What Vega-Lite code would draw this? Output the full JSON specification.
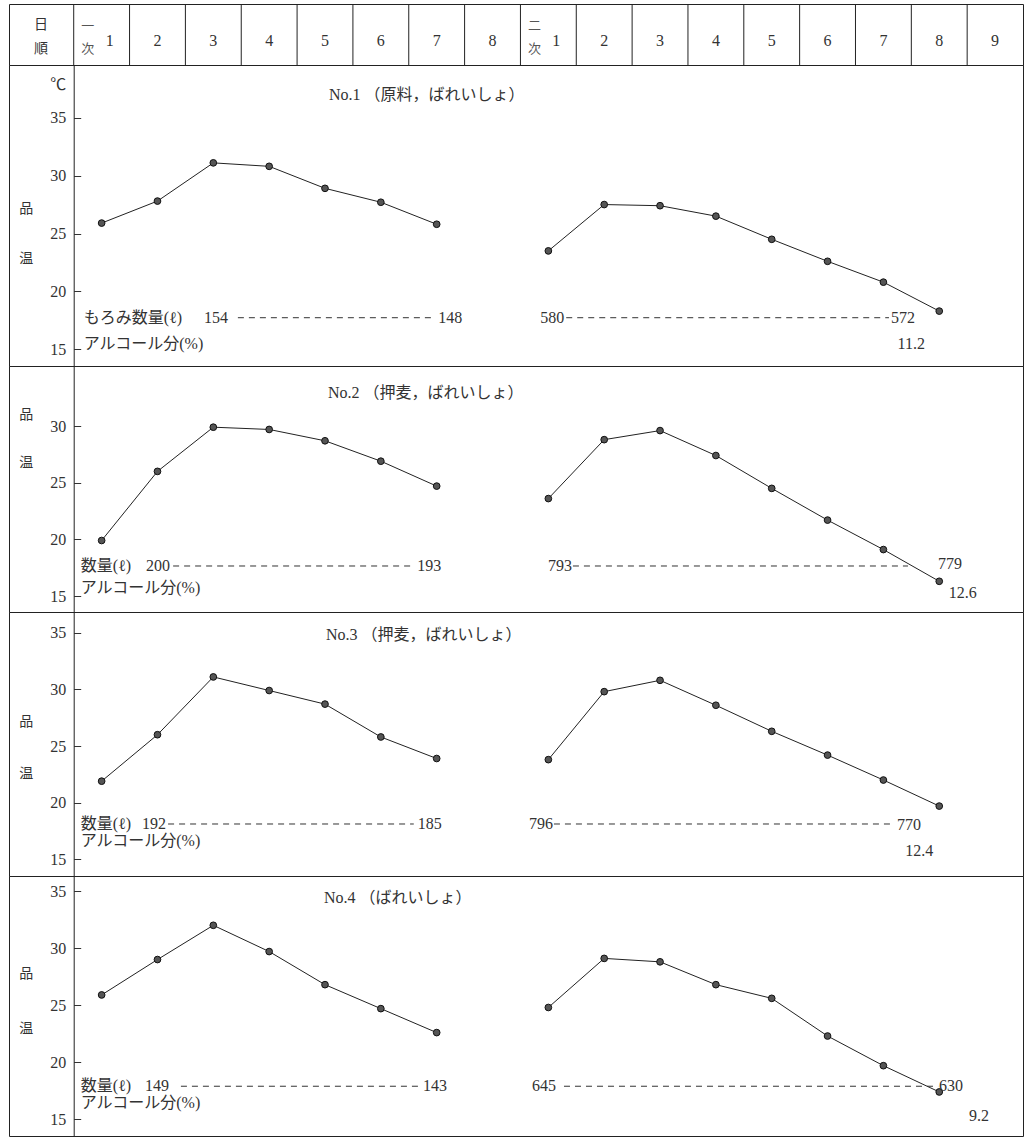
{
  "$schema": "https://vega.github.io/schema/vega-lite/v6.json",
  "background": "white",
  "padding": {"left": 8, "top": 3, "right": 3, "bottom": 1},
  "bounds": "flush",
  "spacing": 0,
  "datasets": {
    "header": [
      {"日": "一次1", "日数": "1", "工程": "一\n次"},
      {"日": "一次2", "日数": "2"},
      {"日": "一次3", "日数": "3"},
      {"日": "一次4", "日数": "4"},
      {"日": "一次5", "日数": "5"},
      {"日": "一次6", "日数": "6"},
      {"日": "一次7", "日数": "7"},
      {"日": "一次8", "日数": "8"},
      {"日": "二次1", "日数": "1", "工程": "二\n次"},
      {"日": "二次2", "日数": "2"},
      {"日": "二次3", "日数": "3"},
      {"日": "二次4", "日数": "4"},
      {"日": "二次5", "日数": "5"},
      {"日": "二次6", "日数": "6"},
      {"日": "二次7", "日数": "7"},
      {"日": "二次8", "日数": "8"},
      {"日": "二次9", "日数": "9"}
    ],
    "temp": [
      {"No": 1, "工程": "一次", "日": "一次1", "品温": 25.9},
      {"No": 1, "工程": "一次", "日": "一次2", "品温": 27.8},
      {"No": 1, "工程": "一次", "日": "一次3", "品温": 31.1},
      {"No": 1, "工程": "一次", "日": "一次4", "品温": 30.8},
      {"No": 1, "工程": "一次", "日": "一次5", "品温": 28.9},
      {"No": 1, "工程": "一次", "日": "一次6", "品温": 27.7},
      {"No": 1, "工程": "一次", "日": "一次7", "品温": 25.8},
      {"No": 1, "工程": "二次", "日": "二次1", "品温": 23.5},
      {"No": 1, "工程": "二次", "日": "二次2", "品温": 27.5},
      {"No": 1, "工程": "二次", "日": "二次3", "品温": 27.4},
      {"No": 1, "工程": "二次", "日": "二次4", "品温": 26.5},
      {"No": 1, "工程": "二次", "日": "二次5", "品温": 24.5},
      {"No": 1, "工程": "二次", "日": "二次6", "品温": 22.6},
      {"No": 1, "工程": "二次", "日": "二次7", "品温": 20.8},
      {"No": 1, "工程": "二次", "日": "二次8", "品温": 18.3},
      {"No": 2, "工程": "一次", "日": "一次1", "品温": 19.9},
      {"No": 2, "工程": "一次", "日": "一次2", "品温": 26.0},
      {"No": 2, "工程": "一次", "日": "一次3", "品温": 29.9},
      {"No": 2, "工程": "一次", "日": "一次4", "品温": 29.7},
      {"No": 2, "工程": "一次", "日": "一次5", "品温": 28.7},
      {"No": 2, "工程": "一次", "日": "一次6", "品温": 26.9},
      {"No": 2, "工程": "一次", "日": "一次7", "品温": 24.7},
      {"No": 2, "工程": "二次", "日": "二次1", "品温": 23.6},
      {"No": 2, "工程": "二次", "日": "二次2", "品温": 28.8},
      {"No": 2, "工程": "二次", "日": "二次3", "品温": 29.6},
      {"No": 2, "工程": "二次", "日": "二次4", "品温": 27.4},
      {"No": 2, "工程": "二次", "日": "二次5", "品温": 24.5},
      {"No": 2, "工程": "二次", "日": "二次6", "品温": 21.7},
      {"No": 2, "工程": "二次", "日": "二次7", "品温": 19.1},
      {"No": 2, "工程": "二次", "日": "二次8", "品温": 16.3},
      {"No": 3, "工程": "一次", "日": "一次1", "品温": 21.9},
      {"No": 3, "工程": "一次", "日": "一次2", "品温": 26.0},
      {"No": 3, "工程": "一次", "日": "一次3", "品温": 31.1},
      {"No": 3, "工程": "一次", "日": "一次4", "品温": 29.9},
      {"No": 3, "工程": "一次", "日": "一次5", "品温": 28.7},
      {"No": 3, "工程": "一次", "日": "一次6", "品温": 25.8},
      {"No": 3, "工程": "一次", "日": "一次7", "品温": 23.9},
      {"No": 3, "工程": "二次", "日": "二次1", "品温": 23.8},
      {"No": 3, "工程": "二次", "日": "二次2", "品温": 29.8},
      {"No": 3, "工程": "二次", "日": "二次3", "品温": 30.8},
      {"No": 3, "工程": "二次", "日": "二次4", "品温": 28.6},
      {"No": 3, "工程": "二次", "日": "二次5", "品温": 26.3},
      {"No": 3, "工程": "二次", "日": "二次6", "品温": 24.2},
      {"No": 3, "工程": "二次", "日": "二次7", "品温": 22.0},
      {"No": 3, "工程": "二次", "日": "二次8", "品温": 19.7},
      {"No": 4, "工程": "一次", "日": "一次1", "品温": 25.9},
      {"No": 4, "工程": "一次", "日": "一次2", "品温": 29.0},
      {"No": 4, "工程": "一次", "日": "一次3", "品温": 32.0},
      {"No": 4, "工程": "一次", "日": "一次4", "品温": 29.7},
      {"No": 4, "工程": "一次", "日": "一次5", "品温": 26.8},
      {"No": 4, "工程": "一次", "日": "一次6", "品温": 24.7},
      {"No": 4, "工程": "一次", "日": "一次7", "品温": 22.6},
      {"No": 4, "工程": "二次", "日": "二次1", "品温": 24.8},
      {"No": 4, "工程": "二次", "日": "二次2", "品温": 29.1},
      {"No": 4, "工程": "二次", "日": "二次3", "品温": 28.8},
      {"No": 4, "工程": "二次", "日": "二次4", "品温": 26.8},
      {"No": 4, "工程": "二次", "日": "二次5", "品温": 25.6},
      {"No": 4, "工程": "二次", "日": "二次6", "品温": 22.3},
      {"No": 4, "工程": "二次", "日": "二次7", "品温": 19.7},
      {"No": 4, "工程": "二次", "日": "二次8", "品温": 17.4}
    ],
    "qty": [
      {"No": 1, "工程": "一次", "項目": "もろみ数量(ℓ)", "始": "一次3", "終": "一次7", "始量": 154, "終量": 148},
      {"No": 1, "工程": "二次", "始": "二次1", "終": "二次7", "始量": 580, "終量": 572},
      {"No": 2, "工程": "一次", "項目": "数量(ℓ)", "始": "一次2", "終": "一次7", "始量": 200, "終量": 193},
      {"No": 2, "工程": "二次", "始": "二次1", "終": "二次7", "始量": 793, "終量": 779},
      {"No": 3, "工程": "一次", "項目": "数量(ℓ)", "始": "一次2", "終": "一次7", "始量": 192, "終量": 185},
      {"No": 3, "工程": "二次", "始": "二次1", "終": "二次7", "始量": 796, "終量": 770},
      {"No": 4, "工程": "一次", "項目": "数量(ℓ)", "始": "一次2", "終": "一次7", "始量": 149, "終量": 143},
      {"No": 4, "工程": "二次", "始": "二次1", "終": "二次8", "始量": 645, "終量": 630}
    ],
    "alc": [
      {"No": 1, "項目": "アルコール分(%)", "アルコール分": 11.2},
      {"No": 2, "項目": "アルコール分(%)", "アルコール分": 12.6},
      {"No": 3, "項目": "アルコール分(%)", "アルコール分": 12.4},
      {"No": 4, "項目": "アルコール分(%)", "アルコール分": 9.2}
    ]
  },
  "vconcat": [
    {
      "width": 1014, "height": 61,
      "title": {"text": ["日", "順"], "orient": "left", "anchor": "middle", "frame": "group", "angle": 0, "offset": -46, "dy": -10, "align": "center", "baseline": "middle", "lineHeight": 24, "fontSize": 14, "fontWeight": "normal", "color": "#333", "font": "Noto Sans CJK JP"},
      "data": {"name": "header"},
      "layer": [
        {"mark": {"type": "rule", "color": "#222", "strokeWidth": 1},
         "encoding": {"x": {"field": "日", "type": "ordinal", "bandPosition": 0, "axis": null,
           "scale": {"type": "band", "domain": ["一次1","一次2","一次3","一次4","一次5","一次6","一次7","一次8","二次1","二次2","二次3","二次4","二次5","二次6","二次7","二次8","二次9"], "paddingInner": 0, "paddingOuter": 0.5795, "align": 1}}}},
        {"transform": [{"filter": "datum['工程'] == null"}],
         "mark": {"type": "text", "baseline": "middle", "align": "center", "dy": 6, "fontSize": 16, "color": "#333", "font": "Liberation Serif, Noto Sans CJK JP"},
         "encoding": {"x": {"field": "日", "type": "ordinal", "axis": null}, "text": {"field": "日数"}}},
        {"transform": [{"filter": "datum['工程'] != null"}],
         "mark": {"type": "text", "baseline": "middle", "align": "center", "dy": 6, "dx": 8, "fontSize": 16, "color": "#333", "font": "Liberation Serif, Noto Sans CJK JP"},
         "encoding": {"x": {"field": "日", "type": "ordinal", "axis": null}, "text": {"field": "日数"}}},
        {"transform": [{"filter": "datum['工程'] != null"}],
         "mark": {"type": "text", "baseline": "middle", "align": "center", "dy": -8.5, "lineBreak": "\n", "lineHeight": 23, "fontSize": 13, "color": "#555", "font": "Noto Sans CJK JP"},
         "encoding": {"x": {"field": "日", "type": "ordinal", "bandPosition": 0.25, "axis": null}, "text": {"field": "工程"}}}
      ]
    },
    {
      "width": 1014, "height": 301,
      "title": {"text": "No.1 （原料，ばれいしょ）", "anchor": "start", "frame": "group", "offset": -46, "dx": 320, "baseline": "middle", "fontSize": 16, "fontWeight": "normal", "color": "#333", "font": "Liberation Serif, Noto Sans CJK JP"},
      "layer": [
        {"data": {"name": "temp"}, "transform": [{"filter": {"field": "No", "equal": 1}}],
         "mark": {"type": "line", "color": "#222", "strokeWidth": 1},
         "encoding": {
           "x": {"field": "日", "type": "ordinal", "axis": null,
             "scale": {"type": "band", "domain": ["一次1","一次2","一次3","一次4","一次5","一次6","一次7","一次8","二次1","二次2","二次3","二次4","二次5","二次6","二次7","二次8","二次9"], "paddingInner": 0, "paddingOuter": 0.5795, "align": 1}},
           "y": {"field": "品温", "type": "quantitative", "scale": {"domain": [13.56, 39.55], "nice": false, "zero": false},
             "axis": {"offset": -64.7, "values": [15, 20, 25, 30, 35, 37.9], "labelExpr": "datum.value > 36 ? '℃' : datum.label", "tickSize": -7, "labelPadding": 15, "tickColor": {"condition": {"test": "datum.value > 36", "value": "transparent"}, "value": "#333"}, "grid": false, "domainColor": "#222", "labelFont": "Liberation Serif, Noto Sans CJK JP", "labelFontSize": 16, "labelColor": "#333", "labelFlush": false, "title": ["品", "温"], "titleAngle": 0, "titleX": -48, "titleY": 136, "titleAlign": "center", "titleBaseline": "top", "titleLineHeight": 50, "titleFontSize": 14, "titleFontWeight": "normal", "titleColor": "#333", "titleFont": "Noto Sans CJK JP"}},
           "detail": {"field": "工程"}}},
        {"data": {"name": "temp"}, "transform": [{"filter": {"field": "No", "equal": 1}}],
         "mark": {"type": "point", "filled": true, "fill": "#555", "stroke": "#111", "strokeWidth": 1, "size": 45, "opacity": 1},
         "encoding": {"x": {"field": "日", "type": "ordinal", "axis": null}, "y": {"field": "品温", "type": "quantitative"}}},
        {"data": {"name": "qty"}, "transform": [{"filter": {"and": [{"field": "No", "equal": 1}, {"field": "工程", "equal": "一次"}]}}],
         "mark": {"type": "rule", "strokeDash": [6, 5], "color": "#333", "strokeWidth": 1},
         "encoding": {"x": {"field": "始", "type": "ordinal", "bandPosition": 0.94, "axis": null}, "x2": {"field": "終", "bandPosition": 0.44}, "y": {"datum": 17.73, "type": "quantitative"}}},
        {"data": {"name": "qty"}, "transform": [{"filter": {"and": [{"field": "No", "equal": 1}, {"field": "工程", "equal": "一次"}]}}],
         "mark": {"type": "text", "align": "left", "baseline": "middle", "dx": 10, "fontSize": 16, "color": "#333", "font": "Liberation Serif, Noto Sans CJK JP"},
         "encoding": {"x": {"datum": "一次1", "type": "ordinal", "bandPosition": 0, "axis": null}, "y": {"datum": 17.73, "type": "quantitative"}, "text": {"field": "項目"}}},
        {"data": {"name": "qty"}, "transform": [{"filter": {"and": [{"field": "No", "equal": 1}, {"field": "工程", "equal": "一次"}]}}],
         "mark": {"type": "text", "align": "right", "baseline": "middle", "dx": -10, "fontSize": 16, "color": "#333", "font": "Liberation Serif, Noto Sans CJK JP"},
         "encoding": {"x": {"field": "始", "type": "ordinal", "bandPosition": 0.94, "axis": null}, "y": {"datum": 17.73, "type": "quantitative"}, "text": {"field": "始量"}}},
        {"data": {"name": "qty"}, "transform": [{"filter": {"and": [{"field": "No", "equal": 1}, {"field": "工程", "equal": "一次"}]}}],
         "mark": {"type": "text", "align": "left", "baseline": "middle", "dx": 5, "fontSize": 16, "color": "#333", "font": "Liberation Serif, Noto Sans CJK JP"},
         "encoding": {"x": {"field": "終", "type": "ordinal", "bandPosition": 0.44, "axis": null}, "y": {"datum": 17.73, "type": "quantitative"}, "text": {"field": "終量"}}},
        {"data": {"name": "qty"}, "transform": [{"filter": {"and": [{"field": "No", "equal": 1}, {"field": "工程", "equal": "二次"}]}}],
         "mark": {"type": "rule", "strokeDash": [6, 5], "color": "#333", "strokeWidth": 1},
         "encoding": {"x": {"field": "始", "type": "ordinal", "bandPosition": 0.82, "axis": null}, "x2": {"field": "終", "bandPosition": 0.60}, "y": {"datum": 17.73, "type": "quantitative"}}},
        {"data": {"name": "qty"}, "transform": [{"filter": {"and": [{"field": "No", "equal": 1}, {"field": "工程", "equal": "二次"}]}}],
         "mark": {"type": "text", "align": "right", "baseline": "middle", "dx": -2, "fontSize": 16, "color": "#333", "font": "Liberation Serif, Noto Sans CJK JP"},
         "encoding": {"x": {"field": "始", "type": "ordinal", "bandPosition": 0.82, "axis": null}, "y": {"datum": 17.73, "type": "quantitative"}, "text": {"field": "始量"}}},
        {"data": {"name": "qty"}, "transform": [{"filter": {"and": [{"field": "No", "equal": 1}, {"field": "工程", "equal": "二次"}]}}],
         "mark": {"type": "text", "align": "left", "baseline": "middle", "dx": 2, "fontSize": 16, "color": "#333", "font": "Liberation Serif, Noto Sans CJK JP"},
         "encoding": {"x": {"field": "終", "type": "ordinal", "bandPosition": 0.60, "axis": null}, "y": {"datum": 17.73, "type": "quantitative"}, "text": {"field": "終量"}}},
        {"data": {"name": "alc"}, "transform": [{"filter": {"field": "No", "equal": 1}}],
         "mark": {"type": "text", "align": "left", "baseline": "middle", "dx": 10, "fontSize": 16, "color": "#333", "font": "Liberation Serif, Noto Sans CJK JP"},
         "encoding": {"x": {"datum": "一次1", "type": "ordinal", "bandPosition": 0, "axis": null}, "y": {"datum": 15.46, "type": "quantitative"}, "text": {"field": "項目"}}},
        {"data": {"name": "alc"}, "transform": [{"filter": {"field": "No", "equal": 1}}],
         "mark": {"type": "text", "align": "center", "baseline": "middle", "fontSize": 16, "color": "#333", "font": "Liberation Serif, Noto Sans CJK JP"},
         "encoding": {"x": {"datum": "二次7", "type": "ordinal", "bandPosition": 1, "axis": null}, "y": {"datum": 15.46, "type": "quantitative"}, "text": {"field": "アルコール分"}}}
      ]
    },
    {
      "width": 1014, "height": 246,
      "title": {"text": "No.2 （押麦，ばれいしょ）", "anchor": "start", "frame": "group", "offset": -43, "dx": 319, "baseline": "middle", "fontSize": 16, "fontWeight": "normal", "color": "#333", "font": "Liberation Serif, Noto Sans CJK JP"},
      "layer": [
        {"data": {"name": "temp"}, "transform": [{"filter": {"field": "No", "equal": 2}}],
         "mark": {"type": "line", "color": "#222", "strokeWidth": 1},
         "encoding": {
           "x": {"field": "日", "type": "ordinal", "axis": null,
             "scale": {"type": "band", "domain": ["一次1","一次2","一次3","一次4","一次5","一次6","一次7","一次8","二次1","二次2","二次3","二次4","二次5","二次6","二次7","二次8","二次9"], "paddingInner": 0, "paddingOuter": 0.5795, "align": 1}},
           "y": {"field": "品温", "type": "quantitative", "scale": {"domain": [13.59, 35.3], "nice": false, "zero": false},
             "axis": {"offset": -64.7, "values": [15, 20, 25, 30], "tickSize": -7, "labelPadding": 15, "tickColor": "#333", "grid": false, "domainColor": "#222", "labelFont": "Liberation Serif, Noto Sans CJK JP", "labelFontSize": 16, "labelColor": "#333", "labelFlush": false, "title": ["品", "温"], "titleAngle": 0, "titleX": -48, "titleY": 41, "titleAlign": "center", "titleBaseline": "top", "titleLineHeight": 48, "titleFontSize": 14, "titleFontWeight": "normal", "titleColor": "#333", "titleFont": "Noto Sans CJK JP"}},
           "detail": {"field": "工程"}}},
        {"data": {"name": "temp"}, "transform": [{"filter": {"field": "No", "equal": 2}}],
         "mark": {"type": "point", "filled": true, "fill": "#555", "stroke": "#111", "strokeWidth": 1, "size": 45, "opacity": 1},
         "encoding": {"x": {"field": "日", "type": "ordinal", "axis": null}, "y": {"field": "品温", "type": "quantitative"}}},
        {"data": {"name": "qty"}, "transform": [{"filter": {"and": [{"field": "No", "equal": 2}, {"field": "工程", "equal": "一次"}]}}],
         "mark": {"type": "rule", "strokeDash": [6, 5], "color": "#333", "strokeWidth": 1},
         "encoding": {"x": {"field": "始", "type": "ordinal", "bandPosition": 0.78, "axis": null}, "x2": {"field": "終", "bandPosition": 0.08}, "y": {"datum": 17.65, "type": "quantitative"}}},
        {"data": {"name": "qty"}, "transform": [{"filter": {"and": [{"field": "No", "equal": 2}, {"field": "工程", "equal": "一次"}]}}],
         "mark": {"type": "text", "align": "left", "baseline": "middle", "dx": 7, "fontSize": 16, "color": "#333", "font": "Liberation Serif, Noto Sans CJK JP"},
         "encoding": {"x": {"datum": "一次1", "type": "ordinal", "bandPosition": 0, "axis": null}, "y": {"datum": 17.65, "type": "quantitative"}, "text": {"field": "項目"}}},
        {"data": {"name": "qty"}, "transform": [{"filter": {"and": [{"field": "No", "equal": 2}, {"field": "工程", "equal": "一次"}]}}],
         "mark": {"type": "text", "align": "right", "baseline": "middle", "dx": -3, "fontSize": 16, "color": "#333", "font": "Liberation Serif, Noto Sans CJK JP"},
         "encoding": {"x": {"field": "始", "type": "ordinal", "bandPosition": 0.78, "axis": null}, "y": {"datum": 17.65, "type": "quantitative"}, "text": {"field": "始量"}}},
        {"data": {"name": "qty"}, "transform": [{"filter": {"and": [{"field": "No", "equal": 2}, {"field": "工程", "equal": "一次"}]}}],
         "mark": {"type": "text", "align": "left", "baseline": "middle", "dx": 4, "fontSize": 16, "color": "#333", "font": "Liberation Serif, Noto Sans CJK JP"},
         "encoding": {"x": {"field": "終", "type": "ordinal", "bandPosition": 0.08, "axis": null}, "y": {"datum": 17.65, "type": "quantitative"}, "text": {"field": "終量"}}},
        {"data": {"name": "qty"}, "transform": [{"filter": {"and": [{"field": "No", "equal": 2}, {"field": "工程", "equal": "二次"}]}}],
         "mark": {"type": "rule", "strokeDash": [6, 5], "color": "#333", "strokeWidth": 1},
         "encoding": {"x": {"field": "始", "type": "ordinal", "bandPosition": 0.94, "axis": null}, "x2": {"field": "終", "bandPosition": 0.94}, "y": {"datum": 17.65, "type": "quantitative"}}},
        {"data": {"name": "qty"}, "transform": [{"filter": {"and": [{"field": "No", "equal": 2}, {"field": "工程", "equal": "二次"}]}}],
         "mark": {"type": "text", "align": "right", "baseline": "middle", "dx": -1, "fontSize": 16, "color": "#333", "font": "Liberation Serif, Noto Sans CJK JP"},
         "encoding": {"x": {"field": "始", "type": "ordinal", "bandPosition": 0.94, "axis": null}, "y": {"datum": 17.65, "type": "quantitative"}, "text": {"field": "始量"}}},
        {"data": {"name": "qty"}, "transform": [{"filter": {"and": [{"field": "No", "equal": 2}, {"field": "工程", "equal": "二次"}]}}],
         "mark": {"type": "text", "align": "left", "baseline": "middle", "dx": 30, "fontSize": 16, "color": "#333", "font": "Liberation Serif, Noto Sans CJK JP"},
         "encoding": {"x": {"field": "終", "type": "ordinal", "bandPosition": 0.94, "axis": null}, "y": {"datum": 17.8, "type": "quantitative"}, "text": {"field": "終量"}}},
        {"data": {"name": "alc"}, "transform": [{"filter": {"field": "No", "equal": 2}}],
         "mark": {"type": "text", "align": "left", "baseline": "middle", "dx": 7, "fontSize": 16, "color": "#333", "font": "Liberation Serif, Noto Sans CJK JP"},
         "encoding": {"x": {"datum": "一次1", "type": "ordinal", "bandPosition": 0, "axis": null}, "y": {"datum": 15.71, "type": "quantitative"}, "text": {"field": "項目"}}},
        {"data": {"name": "alc"}, "transform": [{"filter": {"field": "No", "equal": 2}}],
         "mark": {"type": "text", "align": "center", "baseline": "middle", "fontSize": 16, "color": "#333", "font": "Liberation Serif, Noto Sans CJK JP"},
         "encoding": {"x": {"datum": "二次8", "type": "ordinal", "bandPosition": 0.92, "axis": null}, "y": {"datum": 15.26, "type": "quantitative"}, "text": {"field": "アルコール分"}}}
      ]
    },
    {
      "width": 1014, "height": 264,
      "title": {"text": "No.3 （押麦，ばれいしょ）", "anchor": "start", "frame": "group", "offset": -39, "dx": 317, "baseline": "middle", "fontSize": 16, "fontWeight": "normal", "color": "#333", "font": "Liberation Serif, Noto Sans CJK JP"},
      "layer": [
        {"data": {"name": "temp"}, "transform": [{"filter": {"field": "No", "equal": 3}}],
         "mark": {"type": "line", "color": "#222", "strokeWidth": 1},
         "encoding": {
           "x": {"field": "日", "type": "ordinal", "axis": null,
             "scale": {"type": "band", "domain": ["一次1","一次2","一次3","一次4","一次5","一次6","一次7","一次8","二次1","二次2","二次3","二次4","二次5","二次6","二次7","二次8","二次9"], "paddingInner": 0, "paddingOuter": 0.5795, "align": 1}},
           "y": {"field": "品温", "type": "quantitative", "scale": {"domain": [13.53, 36.83], "nice": false, "zero": false},
             "axis": {"offset": -64.7, "values": [15, 20, 25, 30, 35], "tickSize": -7, "labelPadding": 15, "tickColor": "#333", "grid": false, "domainColor": "#222", "labelFont": "Liberation Serif, Noto Sans CJK JP", "labelFontSize": 16, "labelColor": "#333", "labelFlush": false, "title": ["品", "温"], "titleAngle": 0, "titleX": -48, "titleY": 102, "titleAlign": "center", "titleBaseline": "top", "titleLineHeight": 52, "titleFontSize": 14, "titleFontWeight": "normal", "titleColor": "#333", "titleFont": "Noto Sans CJK JP"}},
           "detail": {"field": "工程"}}},
        {"data": {"name": "temp"}, "transform": [{"filter": {"field": "No", "equal": 3}}],
         "mark": {"type": "point", "filled": true, "fill": "#555", "stroke": "#111", "strokeWidth": 1, "size": 45, "opacity": 1},
         "encoding": {"x": {"field": "日", "type": "ordinal", "axis": null}, "y": {"field": "品温", "type": "quantitative"}}},
        {"data": {"name": "qty"}, "transform": [{"filter": {"and": [{"field": "No", "equal": 3}, {"field": "工程", "equal": "一次"}]}}],
         "mark": {"type": "rule", "strokeDash": [6, 5], "color": "#333", "strokeWidth": 1},
         "encoding": {"x": {"field": "始", "type": "ordinal", "bandPosition": 0.69, "axis": null}, "x2": {"field": "終", "bandPosition": 0.09}, "y": {"datum": 18.12, "type": "quantitative"}}},
        {"data": {"name": "qty"}, "transform": [{"filter": {"and": [{"field": "No", "equal": 3}, {"field": "工程", "equal": "一次"}]}}],
         "mark": {"type": "text", "align": "left", "baseline": "middle", "dx": 7, "fontSize": 16, "color": "#333", "font": "Liberation Serif, Noto Sans CJK JP"},
         "encoding": {"x": {"datum": "一次1", "type": "ordinal", "bandPosition": 0, "axis": null}, "y": {"datum": 18.12, "type": "quantitative"}, "text": {"field": "項目"}}},
        {"data": {"name": "qty"}, "transform": [{"filter": {"and": [{"field": "No", "equal": 3}, {"field": "工程", "equal": "一次"}]}}],
         "mark": {"type": "text", "align": "right", "baseline": "middle", "dx": -2, "fontSize": 16, "color": "#333", "font": "Liberation Serif, Noto Sans CJK JP"},
         "encoding": {"x": {"field": "始", "type": "ordinal", "bandPosition": 0.69, "axis": null}, "y": {"datum": 18.12, "type": "quantitative"}, "text": {"field": "始量"}}},
        {"data": {"name": "qty"}, "transform": [{"filter": {"and": [{"field": "No", "equal": 3}, {"field": "工程", "equal": "一次"}]}}],
         "mark": {"type": "text", "align": "left", "baseline": "middle", "dx": 4, "fontSize": 16, "color": "#333", "font": "Liberation Serif, Noto Sans CJK JP"},
         "encoding": {"x": {"field": "終", "type": "ordinal", "bandPosition": 0.09, "axis": null}, "y": {"datum": 18.12, "type": "quantitative"}, "text": {"field": "終量"}}},
        {"data": {"name": "qty"}, "transform": [{"filter": {"and": [{"field": "No", "equal": 3}, {"field": "工程", "equal": "二次"}]}}],
         "mark": {"type": "rule", "strokeDash": [6, 5], "color": "#333", "strokeWidth": 1},
         "encoding": {"x": {"field": "始", "type": "ordinal", "bandPosition": 0.60, "axis": null}, "x2": {"field": "終", "bandPosition": 0.69}, "y": {"datum": 18.12, "type": "quantitative"}}},
        {"data": {"name": "qty"}, "transform": [{"filter": {"and": [{"field": "No", "equal": 3}, {"field": "工程", "equal": "二次"}]}}],
         "mark": {"type": "text", "align": "right", "baseline": "middle", "dx": -1, "fontSize": 16, "color": "#333", "font": "Liberation Serif, Noto Sans CJK JP"},
         "encoding": {"x": {"field": "始", "type": "ordinal", "bandPosition": 0.60, "axis": null}, "y": {"datum": 18.12, "type": "quantitative"}, "text": {"field": "始量"}}},
        {"data": {"name": "qty"}, "transform": [{"filter": {"and": [{"field": "No", "equal": 3}, {"field": "工程", "equal": "二次"}]}}],
         "mark": {"type": "text", "align": "left", "baseline": "middle", "dx": 3, "fontSize": 16, "color": "#333", "font": "Liberation Serif, Noto Sans CJK JP"},
         "encoding": {"x": {"field": "終", "type": "ordinal", "bandPosition": 0.69, "axis": null}, "y": {"datum": 18.0, "type": "quantitative"}, "text": {"field": "終量"}}},
        {"data": {"name": "alc"}, "transform": [{"filter": {"field": "No", "equal": 3}}],
         "mark": {"type": "text", "align": "left", "baseline": "middle", "dx": 7, "fontSize": 16, "color": "#333", "font": "Liberation Serif, Noto Sans CJK JP"},
         "encoding": {"x": {"datum": "一次1", "type": "ordinal", "bandPosition": 0, "axis": null}, "y": {"datum": 16.62, "type": "quantitative"}, "text": {"field": "項目"}}},
        {"data": {"name": "alc"}, "transform": [{"filter": {"field": "No", "equal": 3}}],
         "mark": {"type": "text", "align": "center", "baseline": "middle", "fontSize": 16, "color": "#333", "font": "Liberation Serif, Noto Sans CJK JP"},
         "encoding": {"x": {"datum": "二次8", "type": "ordinal", "bandPosition": 0.14, "axis": null}, "y": {"datum": 15.74, "type": "quantitative"}, "text": {"field": "アルコール分"}}}
      ]
    },
    {
      "width": 1014, "height": 260,
      "title": {"text": "No.4 （ばれいしょ）", "anchor": "start", "frame": "group", "offset": -38, "dx": 315, "baseline": "middle", "fontSize": 16, "fontWeight": "normal", "color": "#333", "font": "Liberation Serif, Noto Sans CJK JP"},
      "layer": [
        {"data": {"name": "temp"}, "transform": [{"filter": {"field": "No", "equal": 4}}],
         "mark": {"type": "line", "color": "#222", "strokeWidth": 1},
         "encoding": {
           "x": {"field": "日", "type": "ordinal", "axis": null,
             "scale": {"type": "band", "domain": ["一次1","一次2","一次3","一次4","一次5","一次6","一次7","一次8","二次1","二次2","二次3","二次4","二次5","二次6","二次7","二次8","二次9"], "paddingInner": 0, "paddingOuter": 0.5795, "align": 1}},
           "y": {"field": "品温", "type": "quantitative", "scale": {"domain": [13.54, 36.32], "nice": false, "zero": false},
             "axis": {"offset": -64.7, "values": [15, 20, 25, 30, 35], "tickSize": -7, "labelPadding": 15, "tickColor": "#333", "grid": false, "domainColor": "#222", "labelFont": "Liberation Serif, Noto Sans CJK JP", "labelFontSize": 16, "labelColor": "#333", "labelFlush": false, "title": ["品", "温"], "titleAngle": 0, "titleX": -48, "titleY": 90, "titleAlign": "center", "titleBaseline": "top", "titleLineHeight": 55, "titleFontSize": 14, "titleFontWeight": "normal", "titleColor": "#333", "titleFont": "Noto Sans CJK JP"}},
           "detail": {"field": "工程"}}},
        {"data": {"name": "temp"}, "transform": [{"filter": {"field": "No", "equal": 4}}],
         "mark": {"type": "point", "filled": true, "fill": "#555", "stroke": "#111", "strokeWidth": 1, "size": 45, "opacity": 1},
         "encoding": {"x": {"field": "日", "type": "ordinal", "axis": null}, "y": {"field": "品温", "type": "quantitative"}}},
        {"data": {"name": "qty"}, "transform": [{"filter": {"and": [{"field": "No", "equal": 4}, {"field": "工程", "equal": "一次"}]}}],
         "mark": {"type": "rule", "strokeDash": [6, 5], "color": "#333", "strokeWidth": 1},
         "encoding": {"x": {"field": "始", "type": "ordinal", "bandPosition": 0.92, "axis": null}, "x2": {"field": "終", "bandPosition": 0.22}, "y": {"datum": 17.9, "type": "quantitative"}}},
        {"data": {"name": "qty"}, "transform": [{"filter": {"and": [{"field": "No", "equal": 4}, {"field": "工程", "equal": "一次"}]}}],
         "mark": {"type": "text", "align": "left", "baseline": "middle", "dx": 7, "fontSize": 16, "color": "#333", "font": "Liberation Serif, Noto Sans CJK JP"},
         "encoding": {"x": {"datum": "一次1", "type": "ordinal", "bandPosition": 0, "axis": null}, "y": {"datum": 17.9, "type": "quantitative"}, "text": {"field": "項目"}}},
        {"data": {"name": "qty"}, "transform": [{"filter": {"and": [{"field": "No", "equal": 4}, {"field": "工程", "equal": "一次"}]}}],
         "mark": {"type": "text", "align": "right", "baseline": "middle", "dx": -12, "fontSize": 16, "color": "#333", "font": "Liberation Serif, Noto Sans CJK JP"},
         "encoding": {"x": {"field": "始", "type": "ordinal", "bandPosition": 0.92, "axis": null}, "y": {"datum": 17.9, "type": "quantitative"}, "text": {"field": "始量"}}},
        {"data": {"name": "qty"}, "transform": [{"filter": {"and": [{"field": "No", "equal": 4}, {"field": "工程", "equal": "一次"}]}}],
         "mark": {"type": "text", "align": "left", "baseline": "middle", "dx": 2, "fontSize": 16, "color": "#333", "font": "Liberation Serif, Noto Sans CJK JP"},
         "encoding": {"x": {"field": "終", "type": "ordinal", "bandPosition": 0.22, "axis": null}, "y": {"datum": 17.9, "type": "quantitative"}, "text": {"field": "終量"}}},
        {"data": {"name": "qty"}, "transform": [{"filter": {"and": [{"field": "No", "equal": 4}, {"field": "工程", "equal": "二次"}]}}],
         "mark": {"type": "rule", "strokeDash": [6, 5], "color": "#333", "strokeWidth": 1},
         "encoding": {"x": {"field": "始", "type": "ordinal", "bandPosition": 0.78, "axis": null}, "x2": {"field": "終", "bandPosition": 0.48}, "y": {"datum": 17.9, "type": "quantitative"}}},
        {"data": {"name": "qty"}, "transform": [{"filter": {"and": [{"field": "No", "equal": 4}, {"field": "工程", "equal": "二次"}]}}],
         "mark": {"type": "text", "align": "right", "baseline": "middle", "dx": -8, "fontSize": 16, "color": "#333", "font": "Liberation Serif, Noto Sans CJK JP"},
         "encoding": {"x": {"field": "始", "type": "ordinal", "bandPosition": 0.78, "axis": null}, "y": {"datum": 17.9, "type": "quantitative"}, "text": {"field": "始量"}}},
        {"data": {"name": "qty"}, "transform": [{"filter": {"and": [{"field": "No", "equal": 4}, {"field": "工程", "equal": "二次"}]}}],
         "mark": {"type": "text", "align": "left", "baseline": "middle", "dx": 1, "fontSize": 16, "color": "#333", "font": "Liberation Serif, Noto Sans CJK JP"},
         "encoding": {"x": {"field": "終", "type": "ordinal", "bandPosition": 0.48, "axis": null}, "y": {"datum": 17.9, "type": "quantitative"}, "text": {"field": "終量"}}},
        {"data": {"name": "alc"}, "transform": [{"filter": {"field": "No", "equal": 4}}],
         "mark": {"type": "text", "align": "left", "baseline": "middle", "dx": 7, "fontSize": 16, "color": "#333", "font": "Liberation Serif, Noto Sans CJK JP"},
         "encoding": {"x": {"datum": "一次1", "type": "ordinal", "bandPosition": 0, "axis": null}, "y": {"datum": 16.41, "type": "quantitative"}, "text": {"field": "項目"}}},
        {"data": {"name": "alc"}, "transform": [{"filter": {"field": "No", "equal": 4}}],
         "mark": {"type": "text", "align": "center", "baseline": "middle", "fontSize": 16, "color": "#333", "font": "Liberation Serif, Noto Sans CJK JP"},
         "encoding": {"x": {"datum": "二次9", "type": "ordinal", "bandPosition": 0.21, "axis": null}, "y": {"datum": 15.27, "type": "quantitative"}, "text": {"field": "アルコール分"}}}
      ]
    }
  ],
  "config": {
    "view": {"stroke": "#222", "strokeWidth": 1},
    "font": "Liberation Serif, Noto Sans CJK JP"
  }
}
